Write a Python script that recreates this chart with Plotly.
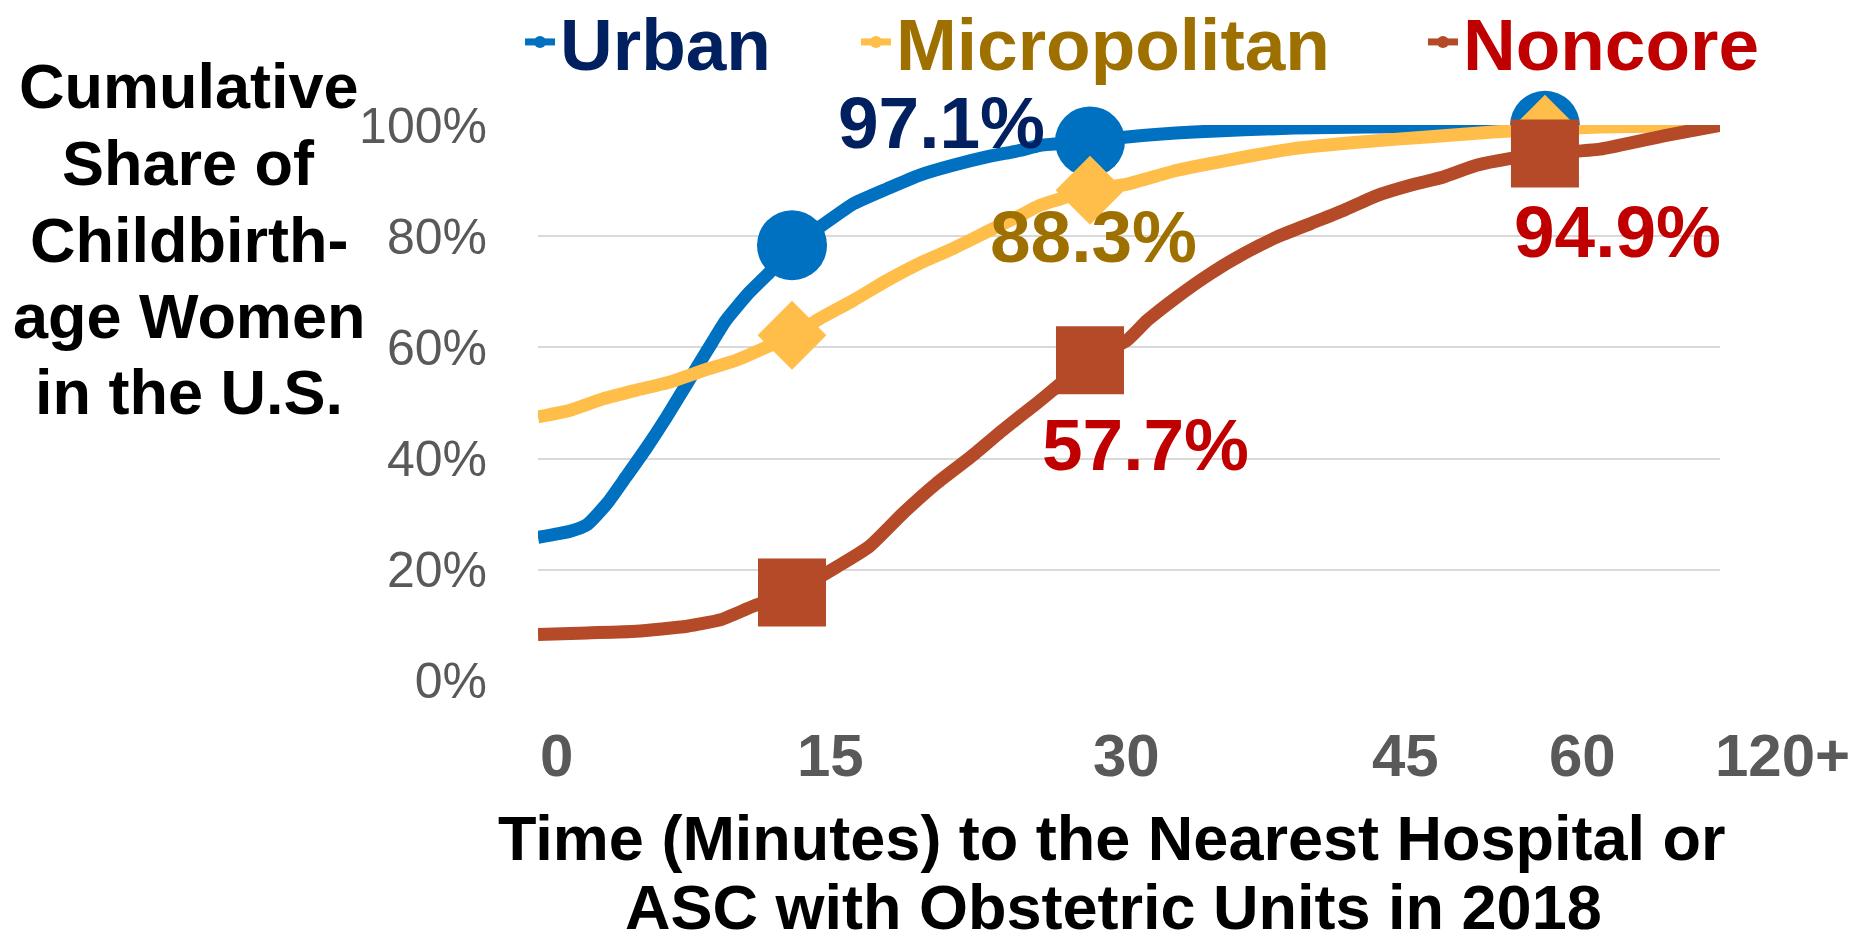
import numpy as np
import plotly.graph_objects as go

# ---------------- data ----------------
urban_min = [0, 1.9, 2.9, 4.1, 5.2, 6.4, 7.6, 8.8, 10.0, 11.1, 12.5, 13.7, 15, 16.4, 18.1, 19.8,
             21.4, 23.1, 24.8, 26.5, 27.5, 30, 32.0, 35.6, 41.0, 45, 52.0, 60, 120]
urban_pct = [25.8, 26.9, 28.1, 32.0, 36.7, 41.9, 47.5, 53.5, 59.5, 64.9, 70.0, 73.6, 78.4, 81.7, 85.9, 88.6,
             91.0, 92.8, 94.3, 95.5, 96.4, 97.1, 97.9, 98.8, 99.5, 99.7, 99.8, 99.9, 100]

micro_min = [0, 1.9, 3.9, 5.8, 7.8, 9.8, 11.7, 15, 16.4, 18.1, 19.8, 21.4, 23.1, 24.8, 26.5, 27.5,
             30, 32.0, 34.7, 37.4, 41.0, 44.6, 50.0, 55.6, 60, 78.9, 120]
micro_pct = [47.5, 48.7, 50.8, 52.3, 53.8, 55.9, 57.7, 62.2, 65.2, 68.5, 72.1, 75.1, 77.8, 80.8, 83.8, 85.6,
             88.3, 89.4, 91.9, 93.7, 95.8, 97.0, 97.9, 98.8, 99.3, 99.7, 100]

noncore_min = [0, 2.9, 5.8, 8.8, 10.8, 12.7, 15, 17.3, 18.9, 20.6, 22.3, 24.0, 25.6, 27.3, 30, 32.0,
               33.1, 34.7, 36.5, 38.3, 40.1, 41.9, 43.7, 45.7, 48.6, 51.4, 54.2, 57.0, 60, 78.9, 101.6, 120]
noncore_pct = [8.3, 8.6, 8.9, 9.8, 11.0, 13.4, 15.9, 20.6, 24.2, 30.2, 35.6, 40.3, 45.1, 49.9, 57.7, 61.3,
               64.9, 69.1, 73.3, 76.9, 79.9, 82.3, 84.7, 87.3, 89.2, 90.7, 92.8, 94.0, 94.9, 95.7, 98.2, 100]

series_names = ["Urban", "Micropolitan", "Noncore"]
marker_minutes = [15, 30, 60]
x_tick_minutes = [0, 15, 30, 45, 60, 120]
x_tick_labels = ["0", "15", "30", "45", "60", "120+"]
y_tick_values = [0, 20, 40, 60, 80, 100]
y_tick_labels = ["0%", "20%", "40%", "60%", "80%", "100%"]

# labelled points: (series index, minute, text)
labelled_points = [(0, 30, "97.1%"), (1, 30, "88.3%"), (2, 30, "57.7%"), (2, 60, "94.9%")]

# ---------------- x scale (non-uniform time axis of the original) ----------------
SCALE_MIN = [0, 15, 30, 45, 60, 120]
SCALE_POS = [0.0, 0.2149, 0.4670, 0.7022, 0.8519, 1.0]


def time_to_pos(m):
    return np.interp(m, SCALE_MIN, SCALE_POS)


# ---------------- styles ----------------
FONT = "Arial, 'Liberation Sans', sans-serif"
line_colors = ["#0070C0", "#FFBE4A", "#B44A27"]
text_colors = ["#002060", "#9E7000", "#C00000"]
marker_symbols = ["circle", "diamond", "square"]
marker_sizes = [70, 53, 68]
legend_ids = ["legend", "legend2", "legend3"]
legend_x = [-0.0152, 0.2690, 0.7487]

mins = [urban_min, micro_min, noncore_min]
pcts = [urban_pct, micro_pct, noncore_pct]

fig = go.Figure()
for i in range(3):
    xs = time_to_pos(np.array(mins[i], dtype=float))
    fig.add_trace(go.Scatter(
        x=xs, y=pcts[i], mode="lines",
        line=dict(color=line_colors[i], width=13, shape="spline", smoothing=0.5),
        showlegend=False, cliponaxis=False, hoverinfo="skip"))
    my = [pcts[i][mins[i].index(m)] for m in marker_minutes]
    fig.add_trace(go.Scatter(
        x=time_to_pos(np.array(marker_minutes, dtype=float)), y=my, mode="markers",
        marker=dict(color=line_colors[i], size=marker_sizes[i], symbol=marker_symbols[i],
                    line=dict(width=0)),
        showlegend=False, cliponaxis=False, hoverinfo="skip"))

for i in range(3):
    fig.add_trace(go.Scatter(
        x=[None], y=[None], mode="lines+markers", name=series_names[i],
        line=dict(color=line_colors[i], width=7),
        marker=dict(color=line_colors[i], size=12, symbol="circle"),
        legend=legend_ids[i], showlegend=True))

annotations = []
# data labels
label_shift = {(0, 30): (-148, 19), (1, 30): (4, -46), (2, 30): (56, -84), (2, 60): (73, -78)}
for si, m, txt in labelled_points:
    yv = pcts[si][mins[si].index(m)]
    dx, dy = label_shift[(si, m)]
    annotations.append(dict(
        x=float(time_to_pos(m)), y=yv, xref="x", yref="y", text="<b>%s</b>" % txt,
        showarrow=False, xshift=dx, yshift=dy, xanchor="center", yanchor="middle",
        font=dict(family=FONT, size=73, color=text_colors[si])))

# x tick labels (placed like the original text boxes)
tick_shift = [18, 38.5, 36.5, 37, 38, 62]
for m, lab, sh in zip(x_tick_minutes, x_tick_labels, tick_shift):
    annotations.append(dict(
        x=float(time_to_pos(m)), y=0, xref="x", yref="paper", text="<b>%s</b>" % lab,
        showarrow=False, xshift=sh, yshift=-74, xanchor="center", yanchor="middle",
        font=dict(family=FONT, size=60, color="#595959")))

# y-axis title (left block)
ytitle_lines = ["Cumulative", "Share of", "Childbirth-", "age Women", "in the U.S."]
ytitle_y = [1.0701, 0.9317, 0.7932, 0.6565, 0.5198]
for t, yy in zip(ytitle_lines, ytitle_y):
    annotations.append(dict(
        x=-0.2953, y=yy, xref="paper", yref="paper", text="<b>%s</b>" % t,
        showarrow=False, xanchor="center", yanchor="middle",
        font=dict(family=FONT, size=63, color="#000000")))

# x-axis title
xtitle_lines = ["Time (Minutes) to the Nearest Hospital or", "ASC with Obstetric Units in 2018"]
xtitle_pos = [(0.4856, -0.2824), (0.4873, -0.4065)]
for t, (xx, yy) in zip(xtitle_lines, xtitle_pos):
    annotations.append(dict(
        x=xx, y=yy, xref="paper", yref="paper", text="<b>%s</b>" % t,
        showarrow=False, xanchor="center", yanchor="middle",
        font=dict(family=FONT, size=63, color="#000000")))

layout = dict(
    width=1868, height=943,
    margin=dict(l=538, r=148, t=125, b=262, pad=0, autoexpand=False),
    paper_bgcolor="white", plot_bgcolor="white",
    font=dict(family=FONT),
    xaxis=dict(range=[0, 1], showgrid=False, zeroline=False, showline=False,
               showticklabels=False, ticks="", fixedrange=True),
    yaxis=dict(range=[-0.05, 100.05], tickvals=y_tick_values, ticktext=y_tick_labels,
               showgrid=True, gridcolor="#D9D9D9", gridwidth=2, zeroline=False,
               showline=False, ticks="", ticklabelstandoff=50,
               tickfont=dict(family=FONT, size=50, color="#595959"), fixedrange=True),
    annotations=annotations,
    showlegend=True,
)
for i, lid in enumerate(legend_ids):
    layout[lid] = dict(orientation="h", x=legend_x[i], y=1.1493, xanchor="left", yanchor="middle",
                       bgcolor="rgba(0,0,0,0)", borderwidth=0,
                       font=dict(family=FONT, size=73, color=text_colors[i], weight="bold"),
                       itemwidth=30, itemclick=False, itemdoubleclick=False)
fig.update_layout(**layout)

fig.write_html("out.html", config={"displayModeBar": False},
               post_script="document.body.style.margin='0';")
